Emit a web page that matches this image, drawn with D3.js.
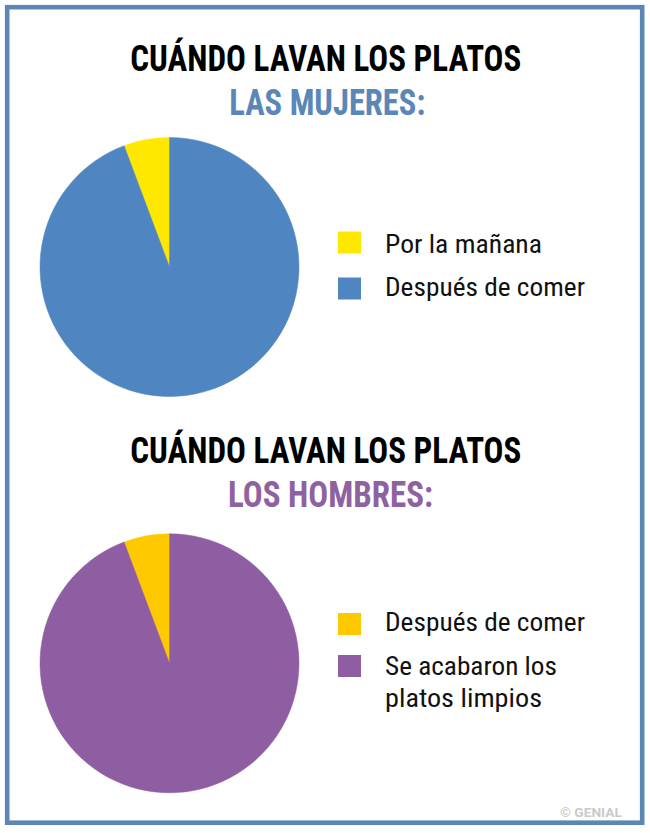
<!DOCTYPE html>
<html>
<head>
<meta charset="utf-8">
<script src="https://cdn.jsdelivr.net/npm/d3@7"></script>
<style>
  body { margin: 0; background: #fff; }
  svg { display: block; }
  .title { font-family: "Roboto Condensed", "Liberation Sans Narrow", "DejaVu Sans Condensed", Roboto, sans-serif; font-weight: 700; }
  .legend-label { font-family: "Roboto Condensed", "Liberation Sans Narrow", "DejaVu Sans Condensed", Roboto, sans-serif; font-weight: 400; fill: #111; }
</style>
</head>
<body>
<div id="chart"></div>
<script>
// data
const titleText = "CUÁNDO LAVAN LOS PLATOS";
const groupNames = ["LAS MUJERES:", "LOS HOMBRES:"];
const womenLabels = ["Por la mañana", "Después de comer"];
const womenValues = [5.7, 94.3];
const menLabels = ["Después de comer", "Se acabaron los platos limpios"];
const menValues = [5.7, 94.3];

const width = 650, height = 833;

const svg = d3.select("#chart").append("svg")
  .attr("width", width)
  .attr("height", height);

// frame
svg.append("rect")
  .attr("x", 7.2).attr("y", 7.2)
  .attr("width", 635).attr("height", 815.5)
  .attr("fill", "none")
  .attr("stroke", "#5b86b6")
  .attr("stroke-width", 4.6);

const panels = [
  {
    name: groupNames[0],
    titleY: 70.5, nameY: 115, nameX: 327.3, nameColor: "#5b87b8", nameLen: 196,
    pieY: 267,
    labels: womenLabels, values: womenValues,
    colors: ["#ffe800", "#4f86c1"],
    legend: [
      { lines: [womenLabels[0]], lens: [157], baselines: [252.5], sq: 231.5 },
      { lines: [womenLabels[1]], lens: [200], baselines: [296], sq: 277.5 }
    ]
  },
  {
    name: groupNames[1],
    titleY: 463.3, nameY: 507.3, nameX: 330.5, nameColor: "#8e62a1", nameLen: 205,
    pieY: 663.3,
    labels: menLabels, values: menValues,
    colors: ["#ffc900", "#8f5ea2"],
    legend: [
      { lines: [menLabels[0]], lens: [200], baselines: [630.5], sq: 613 },
      { lines: ["Se acabaron los", "platos limpios"], lens: [172, 157], baselines: [674.5, 707], sq: 655 }
    ]
  }
];

const radius = 129.5;
const pie = d3.pie().sort(null).startAngle(0).endAngle(-2 * Math.PI);
const arc = d3.arc().innerRadius(0).outerRadius(radius);

panels.forEach(p => {
  // titles
  svg.append("text")
    .attr("class", "title")
    .attr("x", 325.8).attr("y", p.titleY)
    .attr("text-anchor", "middle")
    .attr("font-size", 36)
    .attr("fill", "#000")
    .attr("textLength", 391)
    .attr("lengthAdjust", "spacingAndGlyphs")
    .text(titleText);

  svg.append("text")
    .attr("class", "title")
    .attr("x", p.nameX).attr("y", p.nameY)
    .attr("text-anchor", "middle")
    .attr("font-size", 36)
    .attr("fill", p.nameColor)
    .attr("textLength", p.nameLen)
    .attr("lengthAdjust", "spacingAndGlyphs")
    .text(p.name);

  // pie
  const color = d3.scaleOrdinal().domain(p.labels).range(p.colors);
  const g = svg.append("g")
    .attr("transform", `translate(169.5,${p.pieY})`);

  g.selectAll("path")
    .data(pie(p.values))
    .join("path")
    .attr("d", arc)
    .attr("fill", (d, i) => color(p.labels[i]))
    .attr("stroke", (d, i) => color(p.labels[i]))
    .attr("stroke-width", 0.5);

  // legend
  p.legend.forEach((item, i) => {
    svg.append("rect")
      .attr("x", 338).attr("y", item.sq)
      .attr("width", 23).attr("height", 22)
      .attr("fill", color(p.labels[i]));

    item.lines.forEach((line, j) => {
      svg.append("text")
        .attr("class", "legend-label")
        .attr("x", 385).attr("y", item.baselines[j])
        .attr("font-size", 26)
        .attr("textLength", item.lens[j])
        .attr("lengthAdjust", "spacingAndGlyphs")
        .text(line);
    });
  });
});

// watermark
svg.append("text")
  .attr("x", 560).attr("y", 817)
  .attr("font-family", "Roboto, sans-serif")
  .attr("font-size", 12)
  .attr("font-weight", 700)
  .attr("fill", "#cacaca")
  .attr("textLength", 62)
  .attr("lengthAdjust", "spacingAndGlyphs")
  .text("© GENIAL");
</script>
</body>
</html>
